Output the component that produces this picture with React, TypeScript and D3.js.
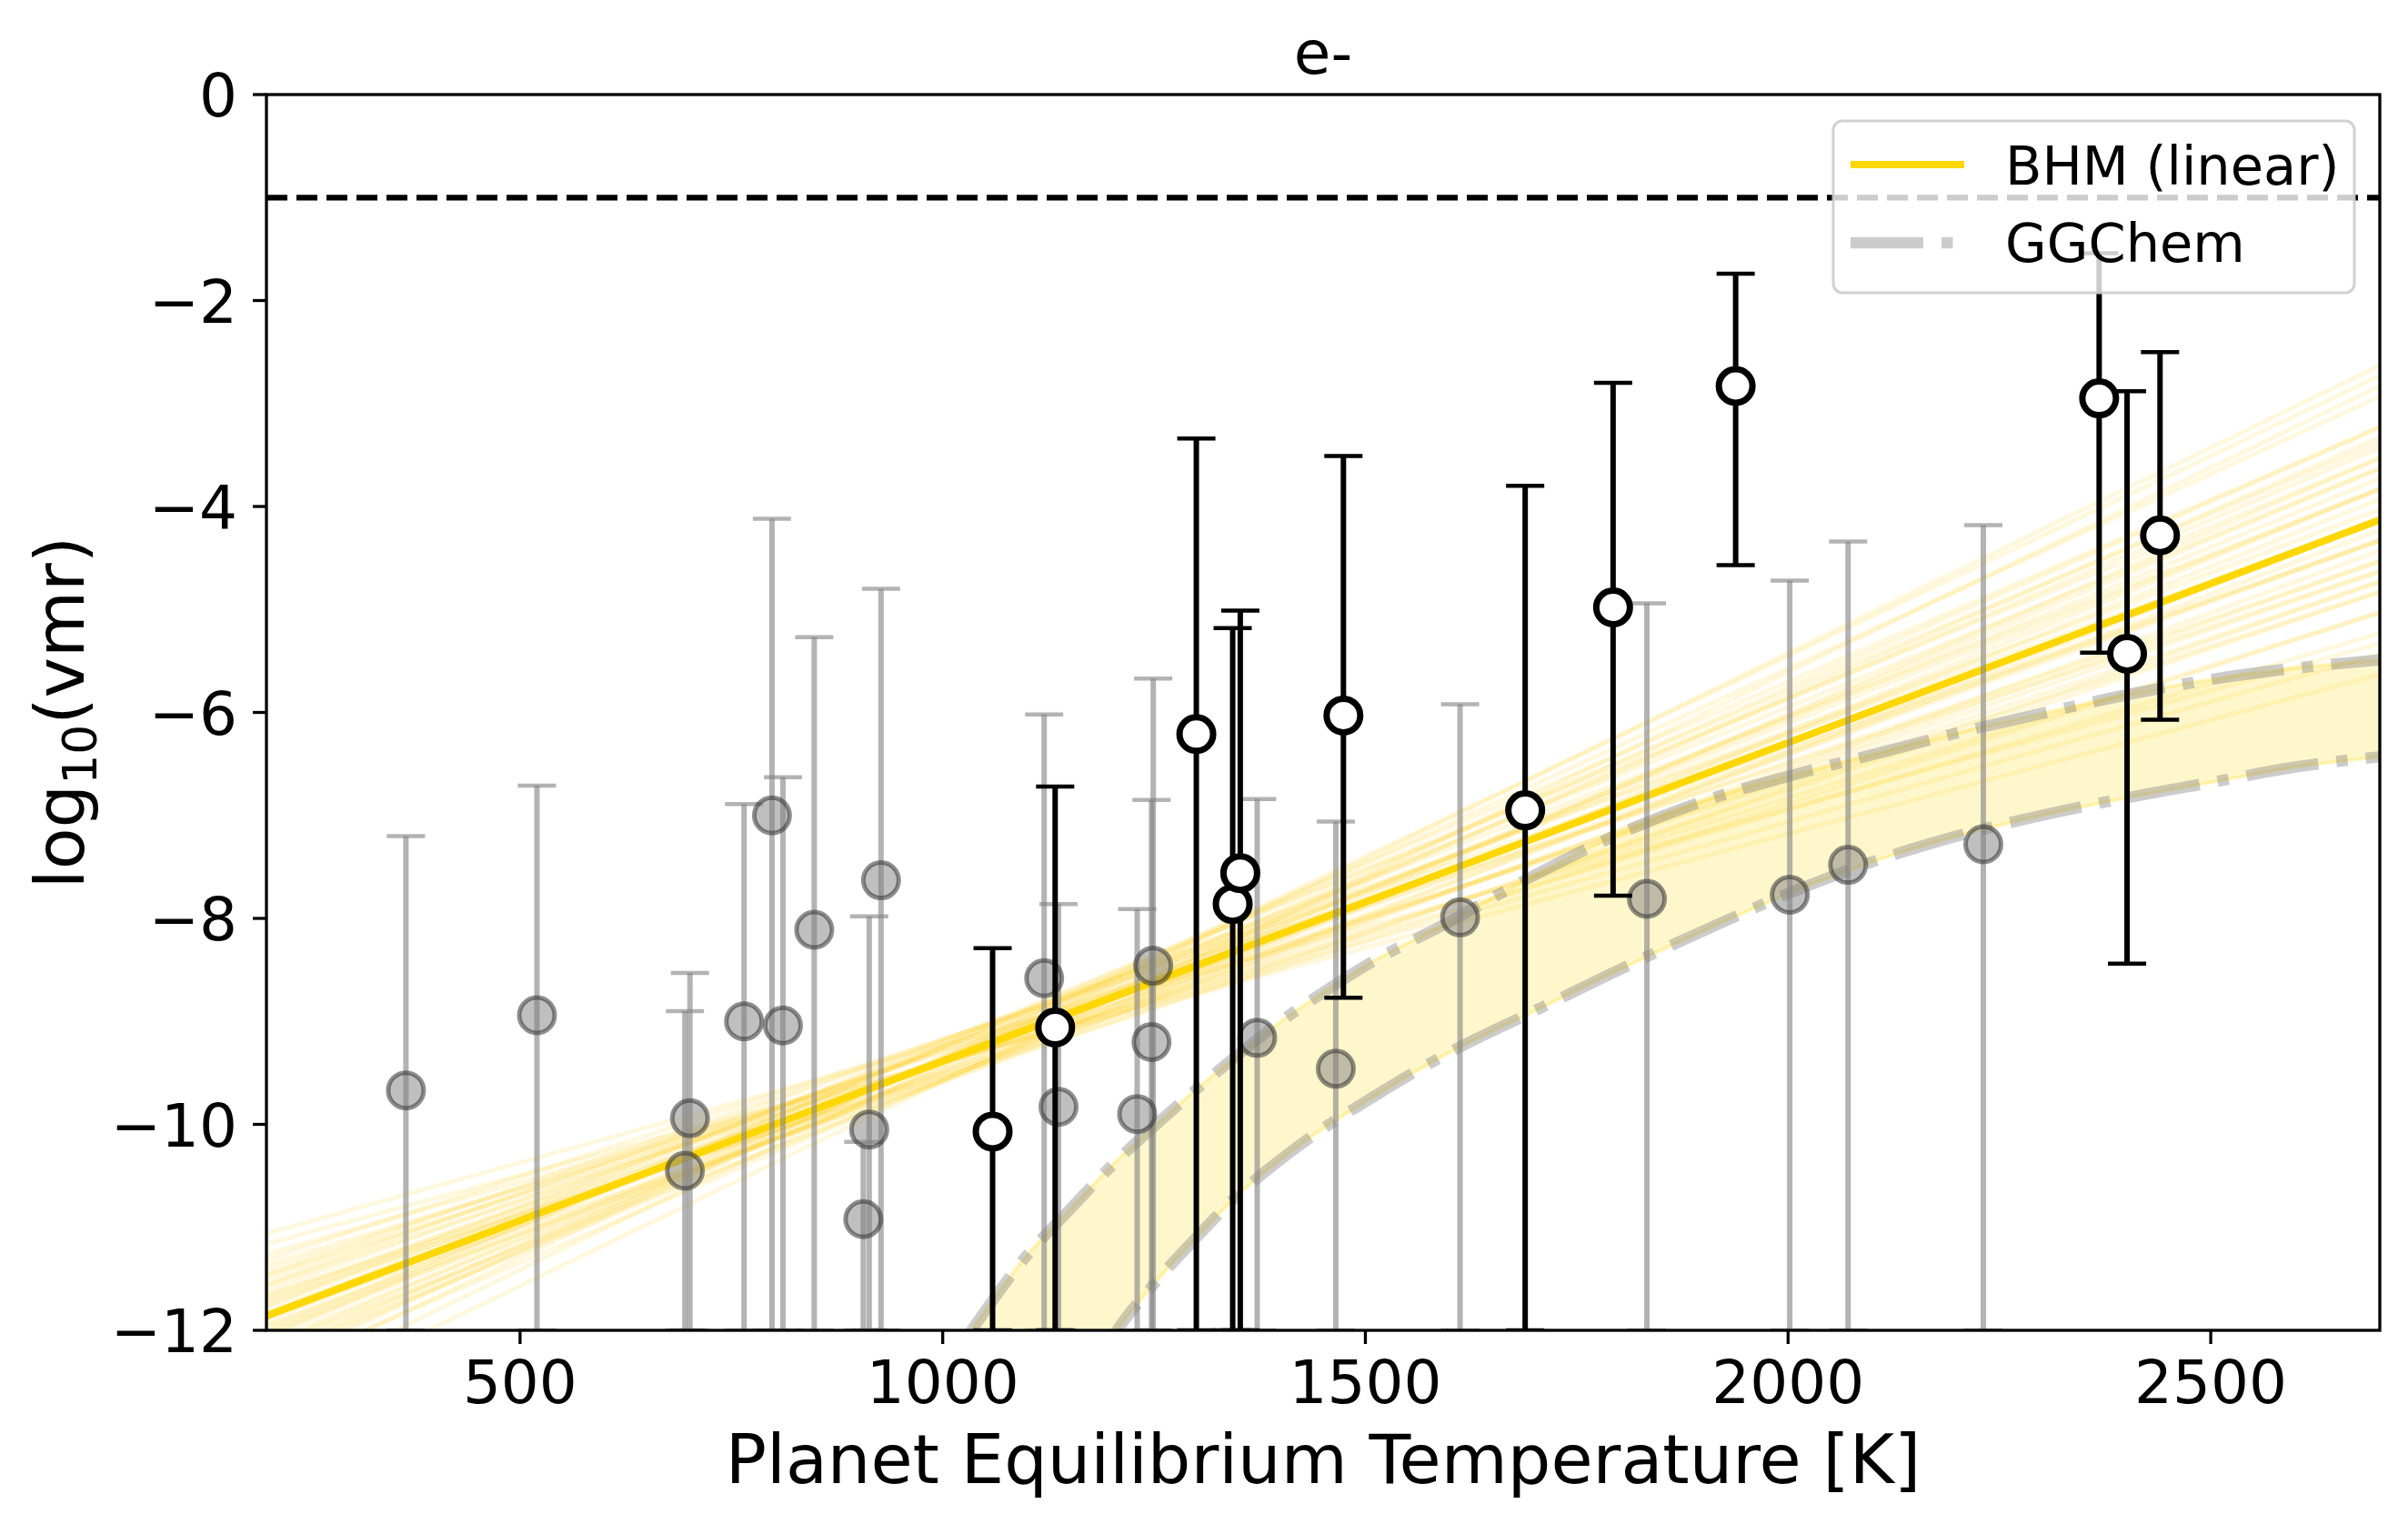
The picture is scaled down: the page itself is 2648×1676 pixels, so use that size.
import React from 'react';
import * as d3 from 'd3';

// ---- data ----
const xTicks = [500, 1000, 1500, 2000, 2500];
const yTicks = [0, -2, -4, -6, -8, -10, -12];

// background sample (grey)
const greyT = [365, 520, 701, 695, 765, 798, 811, 848, 927, 913, 906, 1120, 1137, 1249, 1247, 1230, 1372, 1465, 1612, 1833, 2002, 2071, 2231];
const greyVal = [-9.67, -8.94, -9.94, -10.45, -9.0, -7.0, -9.04, -8.11, -7.63, -10.05, -10.92, -8.58, -9.83, -8.46, -9.2, -9.9, -9.16, -9.46, -7.99, -7.81, -7.77, -7.48, -7.28];
const greyHi = [-7.2, -6.71, -8.53, -8.9, -6.89, -4.12, -6.63, -5.27, -4.8, -7.98, -10.17, -6.02, -7.86, -5.67, -6.85, -7.91, -6.84, -7.06, -5.92, -4.94, -4.72, -4.34, -4.18];
const greyLo = greyT.map(() => -12);

// detections (white markers)
const detT = [1059, 1133, 1300, 1343, 1352, 1474, 1689, 1793, 1938, 2368, 2401, 2440];
const detVal = [-10.07, -9.06, -6.21, -7.86, -7.56, -6.03, -6.95, -4.98, -2.83, -2.95, -5.43, -4.28];
const detHi = [-8.29, -6.72, -3.34, -5.18, -5.01, -3.51, -3.8, -2.8, -1.74, -1.54, -2.88, -2.5];
const detLo = [-12, -12, -12, -12, -12, -8.77, -12, -7.78, -4.57, -5.42, -8.44, -6.07];

// BHM (linear) median fit
const bhmT = [200, 2700];
const bhmVal = [-11.86, -4.13];

// posterior draws: value at T=200 and at T=2700
const drawStart = [-11.76, -11.96, -11.66, -12.06, -11.56, -12.16, -11.71, -12.01, -11.46, -12.26, -11.81, -11.91, -11.61, -12.11, -11.36, -12.36, -11.51, -12.21, -11.26, -12.46, -11.76, -11.96, -11.41, -12.31, -11.16, -12.61, -11.66, -12.06, -11.56, -12.16, -11.86, -11.86, -11.31, -12.41, -11.06, -12.76, -11.71, -12.01, -11.46, -12.26];
const drawEnd = [-4.33, -3.83, -4.63, -3.73, -4.73, -3.43, -4.03, -4.23, -5.03, -3.23, -4.53, -3.63, -4.33, -3.93, -5.23, -2.93, -4.53, -3.63, -5.43, -2.73, -3.83, -4.43, -4.83, -3.33, -5.63, -2.63, -5.03, -3.23, -4.13, -4.13, -3.53, -4.73, -4.63, -3.53, -5.33, -2.83, -4.83, -3.38, -4.33, -3.83];

// GGChem envelope
const ggT = [1030, 1100, 1150, 1200, 1250, 1300, 1350, 1400, 1450, 1500, 1600, 1700, 1800, 1900, 2000, 2100, 2200, 2300, 2400, 2500, 2600, 2700];
const ggUpper = [-12.05, -11.27, -10.83, -10.4, -10.02, -9.66, -9.32, -9.0, -8.72, -8.46, -8.03, -7.58, -7.18, -6.86, -6.62, -6.41, -6.2, -6.01, -5.83, -5.68, -5.57, -5.49];
const ggLower = [-14.3, -13.5, -12.9, -12.08, -11.55, -11.1, -10.68, -10.34, -10.04, -9.78, -9.3, -8.9, -8.5, -8.12, -7.76, -7.45, -7.2, -7.0, -6.83, -6.68, -6.53, -6.43];

const refLevel = -1;

const FONT = 'DejaVu Sans';

export default function App() {
  const left = 293, right = 2617, top = 104, bottom = 1463;
  const x = d3.scaleLinear().domain([200, 2700]).range([left, right]);
  const y = d3.scaleLinear().domain([-12, 0]).range([bottom, top]);

  const line = d3.line<[number, number]>().x(d => x(d[0])).y(d => y(d[1]));
  const curve = d3.line<[number, number]>().x(d => x(d[0])).y(d => y(d[1])).curve(d3.curveMonotoneX);
  const area = d3.area<number>()
    .x((_, i) => x(ggT[i]))
    .y0((_, i) => y(ggLower[i]))
    .y1((_, i) => y(ggUpper[i]))
    .curve(d3.curveMonotoneX);

  const upperPts = ggT.map((t, i) => [t, ggUpper[i]] as [number, number]);
  const lowerPts = ggT.map((t, i) => [t, ggLower[i]] as [number, number]);
  const cap = 21;
  const ggDash = '80 20 12.5 20';

  return (
    <svg width={2648} height={1676} style={{ position: 'absolute', left: 0, top: 0, background: '#fff' }}
      fontFamily={FONT}>
      <defs>
        <clipPath id="plot">
          <rect x={left} y={top} width={right - left} height={bottom - top} />
        </clipPath>
      </defs>
      <rect width={2648} height={1676} fill="#fff" />

      <g clipPath="url(#plot)">
        {/* posterior draws */}
        {drawStart.map((s, i) => (
          <path key={'d' + i} d={line([[bhmT[0], s], [bhmT[1], drawEnd[i]]]) || ''}
            fill="none" stroke="#FFC800" strokeOpacity={0.13} strokeWidth={5} />
        ))}

        {/* GGChem band */}
        <path d={area(ggT) || ''} fill="#FFD700" fillOpacity={0.2} stroke="#FFD700" strokeOpacity={0.25} strokeWidth={4} />
        <path d={curve(upperPts) || ''} fill="none" stroke="gray" strokeOpacity={0.4} strokeWidth={12.5} strokeDasharray={ggDash} />
        <path d={curve(lowerPts) || ''} fill="none" stroke="gray" strokeOpacity={0.4} strokeWidth={12.5} strokeDasharray={ggDash} />

        {/* BHM median */}
        <path d={line([[bhmT[0], bhmVal[0]], [bhmT[1], bhmVal[1]]]) || ''} fill="none" stroke="#FFD700" strokeWidth={8} />

        {/* grey sample */}
        {greyT.map((t, i) => (
          <g key={'g' + i} stroke="gray" strokeOpacity={0.6}>
            <line x1={x(t)} x2={x(t)} y1={y(greyLo[i])} y2={y(greyHi[i])} strokeWidth={6} />
            <line x1={x(t) - cap} x2={x(t) + cap} y1={y(greyHi[i])} y2={y(greyHi[i])} strokeWidth={4.5} />
            <line x1={x(t) - cap} x2={x(t) + cap} y1={y(greyLo[i])} y2={y(greyLo[i])} strokeWidth={4.5} />
          </g>
        ))}
        {greyT.map((t, i) => (
          <circle key={'gm' + i} cx={x(t)} cy={y(greyVal[i])} r={19.5}
            fill="gray" fillOpacity={0.5} stroke="#333" strokeOpacity={0.55} strokeWidth={5} />
        ))}

        {/* detections */}
        {detT.map((t, i) => (
          <g key={'b' + i} stroke="#000">
            <line x1={x(t)} x2={x(t)} y1={y(detLo[i])} y2={y(detHi[i])} strokeWidth={6} />
            <line x1={x(t) - cap} x2={x(t) + cap} y1={y(detHi[i])} y2={y(detHi[i])} strokeWidth={4.5} />
            <line x1={x(t) - cap} x2={x(t) + cap} y1={y(detLo[i])} y2={y(detLo[i])} strokeWidth={4.5} />
          </g>
        ))}
        {detT.map((t, i) => (
          <circle key={'bm' + i} cx={x(t)} cy={y(detVal[i])} r={18.5} fill="#fff" stroke="#000" strokeWidth={7} />
        ))}

        {/* reference level */}
        <line x1={left} x2={right} y1={y(refLevel)} y2={y(refLevel)} stroke="#000" strokeWidth={6.25} strokeDasharray="23 10" />
      </g>

      {/* frame */}
      <rect x={left} y={top} width={right - left} height={bottom - top} fill="none" stroke="#000" strokeWidth={3.3} />

      {/* x axis */}
      {xTicks.map(t => (
        <g key={'xt' + t}>
          <line x1={x(t)} x2={x(t)} y1={bottom} y2={bottom + 15} stroke="#000" strokeWidth={3.3} />
          <text x={x(t)} y={1543} textAnchor="middle" fontSize={66}>{t}</text>
        </g>
      ))}
      {/* y axis */}
      {yTicks.map(t => (
        <g key={'yt' + t}>
          <line x1={left - 15} x2={left} y1={y(t)} y2={y(t)} stroke="#000" strokeWidth={3.3} />
          <text x={261} y={y(t) + 24} textAnchor="end" fontSize={66}>{t < 0 ? '\u2212' + Math.abs(t) : t}</text>
        </g>
      ))}

      <text x={(left + right) / 2} y={1631} textAnchor="middle" fontSize={75}>Planet Equilibrium Temperature [K]</text>
      <text transform={`translate(92, ${(top + bottom) / 2}) rotate(-90)`} textAnchor="middle" fontSize={75}>
        log<tspan fontSize={52} dy={14}>10</tspan><tspan dy={-14}>(vmr)</tspan>
      </text>
      <text x={(left + right) / 2} y={81} textAnchor="middle" fontSize={66}>e-</text>

      {/* legend */}
      <g>
        <rect x={2016} y={133} width={573} height={189} rx={10} fill="#fff" fillOpacity={0.8} stroke="#cccccc" strokeOpacity={0.9} strokeWidth={3} />
        <line x1={2035} x2={2160} y1={181} y2={181} stroke="#FFD700" strokeWidth={8} />
        <text x={2205} y={203} fontSize={59}>BHM (linear)</text>
        <line x1={2035} x2={2160} y1={267} y2={267} stroke="gray" strokeOpacity={0.4} strokeWidth={12.5} strokeDasharray={ggDash} />
        <text x={2205} y={288} fontSize={59}>GGChem</text>
      </g>
    </svg>
  );
}
